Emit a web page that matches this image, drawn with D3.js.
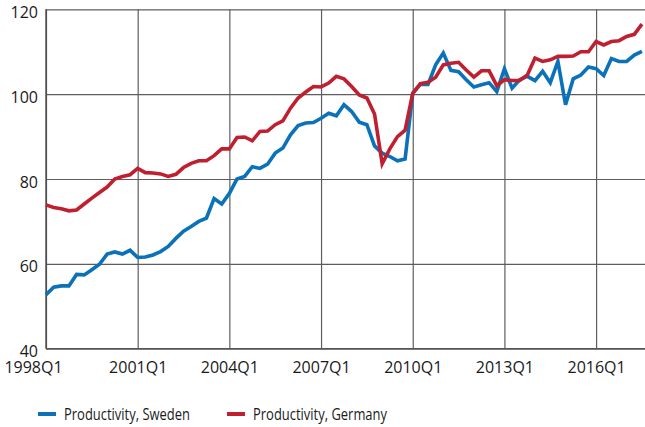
<!DOCTYPE html>
<html lang="en">
<head>
    <meta charset="UTF-8">
    <script src="https://d3js.org/d3.v7.min.js"></script>
    <style>
        body { margin: 0; background: #fff; }
        text { font-family: "Open Sans", sans-serif; fill: #1a1a1a; }
        .grid line { stroke: #5e5e5e; stroke-width: 1.2; }
        .grid path { display: none; }
        .legend text { font-family: "Open Sans", sans-serif; }
    </style>
</head>
<body>
    <div id="chart"></div>

    <script>
        // quarterly index, 1998Q1 .. 2017Q3
        var startYear = 1998;
        var nQuarters = 79;

        var tickLabels = ["1998Q1", "2001Q1", "2004Q1", "2007Q1", "2010Q1", "2013Q1", "2016Q1"];
        var yTicks = [40, 60, 80, 100, 120];

        var sweden = [
            52.7, 54.5, 54.8, 54.8, 57.5, 57.4, 58.6, 59.9, 62.3, 62.8,
            62.3, 63.2, 61.5, 61.6, 62.1, 62.9, 64.1, 66.0, 67.7, 68.8,
            70.0, 70.8, 75.4, 74.1, 76.6, 80.0, 80.6, 82.9, 82.5, 83.5,
            86.1, 87.3, 90.4, 92.6, 93.2, 93.3, 94.3, 95.5, 94.9, 97.5,
            95.9, 93.4, 92.8, 87.8, 86.1, 85.3, 84.3, 84.7, 100.2, 102.3,
            102.3, 106.9, 109.7, 105.6, 105.3, 103.4, 101.7, 102.2, 102.7, 100.6,
            106.0, 101.4, 103.4, 104.2, 103.2, 105.4, 102.7, 107.7, 97.5, 103.6,
            104.5, 106.4, 106.0, 104.4, 108.4, 107.7, 107.7, 109.2, 110.1
        ];

        var germany = [
            73.9, 73.3, 73.0, 72.5, 72.7, 74.1, 75.5, 76.8, 78.1, 80.0,
            80.6, 81.0, 82.5, 81.5, 81.4, 81.2, 80.6, 81.1, 82.7, 83.7,
            84.3, 84.3, 85.5, 87.1, 87.1, 89.8, 89.9, 89.0, 91.2, 91.3,
            92.8, 93.7, 96.7, 99.1, 100.5, 101.8, 101.7, 102.6, 104.2, 103.6,
            101.8, 99.8, 99.1, 95.3, 83.6, 87.1, 90.0, 91.5, 100.2, 102.5,
            102.8, 104.0, 106.9, 107.3, 107.5, 105.7, 104.0, 105.5, 105.5, 102.0,
            103.4, 103.2, 103.2, 104.5, 108.5, 107.7, 108.1, 108.9, 108.9, 109.0,
            110.0, 110.0, 112.4, 111.6, 112.4, 112.6, 113.6, 114.1, 116.5
        ];

        var seriesNames = ["Productivity, Sweden", "Productivity, Germany"];
        var seriesColors = ["#0b72b9", "#c01f2f"];

        var quarters = [];
        for (var i = 0; i < nQuarters; i++) {
            quarters.push((startYear + Math.floor(i / 4)) + "Q" + (i % 4 + 1));
        }

        var W = 645, H = 427;
        var margin = { top: 9.3, right: 0, bottom: 78.3, left: 46 };
        var width = W - margin.left - margin.right,
            height = H - margin.top - margin.bottom;

        var svg = d3.select("#chart")
            .append("svg")
            .attr("width", W)
            .attr("height", H);

        var g = svg.append("g")
            .attr("transform", "translate(" + margin.left + "," + margin.top + ")");

        var step = width / 78.4;
        var x = d3.scalePoint()
            .domain(quarters)
            .range([0, step * (nQuarters - 1)]);

        var y = d3.scaleLinear()
            .domain([40, 120])
            .range([height, 0]);

        // horizontal grid + y labels
        var yAxis = g.append("g")
            .attr("class", "grid")
            .call(d3.axisLeft(y).tickValues(yTicks).tickSize(-width).tickPadding(8));
        yAxis.selectAll("text")
            .style("font-size", "16px")
            .attr("dy", "0.5em");

        // vertical grid + x labels
        var xAxis = g.append("g")
            .attr("class", "grid")
            .attr("transform", "translate(0," + height + ")")
            .call(d3.axisBottom(x).tickValues(tickLabels).tickSize(-height).tickPadding(13));
        xAxis.selectAll("text").style("font-size", "16px");
        xAxis.selectAll(".tick").filter(function (d) { return d === tickLabels[0]; })
            .select("text").attr("x", -13);

        // axis lines
        g.append("line")
            .attr("x1", 0).attr("x2", 0).attr("y1", 0).attr("y2", height)
            .attr("stroke", "#444").attr("stroke-width", 1.3);
        g.append("line")
            .attr("x1", 0).attr("x2", width).attr("y1", height).attr("y2", height)
            .attr("stroke", "#555").attr("stroke-width", 1.3);

        var line = d3.line()
            .x(function (d, i) { return x(quarters[i]); })
            .y(function (d) { return y(d); });

        [sweden, germany].forEach(function (s, k) {
            g.append("path")
                .datum(s)
                .attr("fill", "none")
                .attr("stroke", seriesColors[k])
                .attr("stroke-width", 3.6)
                .attr("stroke-linejoin", "miter")
                .attr("d", line);
        });

        // legend
        var legendX = [38, 227];
        var legendTextLen = [126, 134];
        var legend = svg.selectAll(".legend")
            .data(seriesNames)
            .enter().append("g")
            .attr("class", "legend")
            .attr("transform", function (d, i) { return "translate(" + legendX[i] + ",414)"; });

        legend.append("line")
            .attr("x1", 0).attr("x2", 18)
            .attr("stroke", function (d, i) { return seriesColors[i]; })
            .attr("stroke-width", 4);

        legend.append("text")
            .attr("x", 26)
            .attr("y", 5.5)
            .attr("textLength", function (d, i) { return legendTextLen[i]; })
            .attr("lengthAdjust", "spacingAndGlyphs")
            .style("font-size", "15.5px")
            .text(function (d) { return d; });
    </script>
</body>
</html>
